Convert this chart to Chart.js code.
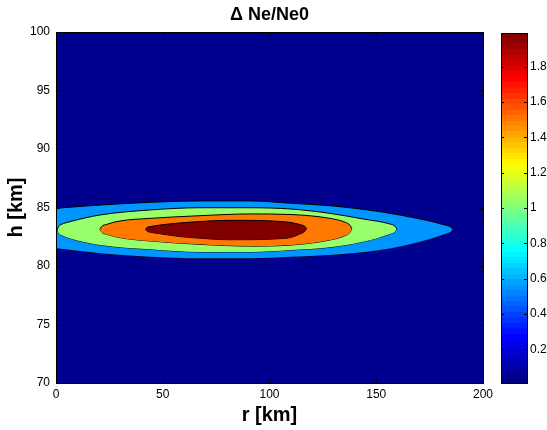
<!DOCTYPE html>
<html>
<head>
<meta charset="utf-8">
<script src="https://cdn.jsdelivr.net/npm/chart.js@4.4.1/dist/chart.umd.min.js"></script>
<style>
  html, body { margin: 0; padding: 0; background: #fff; }
  #wrap { position: relative; width: 547px; height: 430px; overflow: hidden; }
  #mainBox { position: absolute; left: 0; top: 0; width: 520px; height: 430px; }
  #cbBox { position: absolute; left: 490px; top: 0; width: 57px; height: 430px; }
</style>
</head>
<body>
<div id="wrap">
  <div id="mainBox"><canvas id="contourChart"></canvas></div>
  <div id="cbBox"><canvas id="colorbarChart"></canvas></div>
</div>
<script>
// contour boundaries: r [km], upper and lower h [km]
const redR   = [42, 42.6, 44, 48.7, 58, 67.4, 80, 91, 104, 110, 114, 116.6, 117.4];
const redTop = [83.14, 83.3, 83.36, 83.5, 83.68, 83.8, 83.9, 83.9, 83.82, 83.72, 83.55, 83.38, 83.2];
const redBot = [83.14, 82.98, 82.9, 82.76, 82.52, 82.38, 82.25, 82.25, 82.33, 82.44, 82.72, 82.98, 83.2];

const orangeR   = [20.6, 21.3, 24, 30, 44, 67.4, 91, 110, 128.3, 135.4, 137.8, 138.5];
const orangeTop = [83.14, 83.36, 83.57, 83.85, 84.07, 84.3, 84.45, 84.4, 84.07, 83.74, 83.46, 83.2];
const orangeBot = [83.14, 82.92, 82.7, 82.42, 82.14, 81.85, 81.7, 81.79, 82.22, 82.6, 82.9, 83.2];

const greenR   = [0.6, 1.2, 2.5, 6.6, 20.6, 44, 67.4, 91, 110, 128.3, 143.8, 156.4, 158.8, 159.6];
const greenTop = [83.1, 83.38, 83.55, 83.79, 84.36, 84.79, 84.98, 84.98, 84.87, 84.5, 84.02, 83.59, 83.4, 83.18];
const greenBot = [83.1, 82.82, 82.65, 82.36, 81.8, 81.43, 81.2, 81.2, 81.37, 81.6, 82.08, 82.74, 82.95, 83.18];

const blueR   = [0, 20.6, 44, 67.4, 91, 110, 128.3, 151.8, 170.5, 182.2, 185, 185.8];
const blueTop = [84.93, 85.21, 85.44, 85.56, 85.56, 85.36, 85.15, 84.64, 84.02, 83.5, 83.32, 83.14];
const blueBot = [81.51, 81.09, 80.79, 80.66, 80.66, 80.79, 80.94, 81.37, 82.08, 82.74, 82.94, 83.14];

const xTicks = [0, 50, 100, 150, 200];
const yTicks = [70, 75, 80, 85, 90, 95, 100];
const cbRange = [0.01, 1.99];
const cbTicks = [0.2, 0.4, 0.6, 0.8, 1, 1.2, 1.4, 1.6, 1.8];

const FONT = "'Liberation Sans', Arial, Helvetica, sans-serif";

function pts(rs, hs) {
    return rs.map((r, i) => ({ x: r, y: hs[i] }));
}

// jet colour map, 64 steps like matlab
function jet(t) {
    const c = v => Math.round(255 * Math.max(0, Math.min(1, v)));
    return 'rgb(' + c(1.5 - Math.abs(4 * t - 3)) + ',' + c(1.5 - Math.abs(4 * t - 2)) + ',' + c(1.5 - Math.abs(4 * t - 1)) + ')';
}

function band(rs, top, bot, color) {
    const common = {
        borderColor: '#000',
        borderWidth: 1,
        pointRadius: 0,
        cubicInterpolationMode: 'monotone'
    };
    return [
        Object.assign({ data: pts(rs, top), fill: '+1', backgroundColor: color }, common),
        Object.assign({ data: pts(rs, bot), fill: false }, common)
    ];
}

// dark blue plot background, inward ticks and box like matlab
const axesBox = {
    id: 'axesBox',
    beforeDatasetsDraw(chart) {
        const a = chart.chartArea;
        const ctx = chart.ctx;
        ctx.save();
        ctx.fillStyle = 'rgb(0,0,143)';
        ctx.fillRect(a.left, a.top, a.right - a.left, a.bottom - a.top);
        ctx.restore();
    },
    afterDatasetsDraw(chart) {
        const a = chart.chartArea;
        const ctx = chart.ctx;
        const xs = chart.scales.x, ys = chart.scales.y;
        ctx.save();
        ctx.strokeStyle = '#000';
        ctx.lineWidth = 1;
        ctx.beginPath();
        xTicks.forEach(v => {
            const px = Math.round(xs.getPixelForValue(v)) + 0.5;
            ctx.moveTo(px, a.bottom); ctx.lineTo(px, a.bottom - 4);
            ctx.moveTo(px, a.top); ctx.lineTo(px, a.top + 4);
        });
        yTicks.forEach(v => {
            const py = Math.round(ys.getPixelForValue(v)) + 0.5;
            ctx.moveTo(a.left, py); ctx.lineTo(a.left + 4, py);
            ctx.moveTo(a.right, py); ctx.lineTo(a.right - 4, py);
        });
        ctx.stroke();
        ctx.strokeRect(Math.round(a.left) + 0.5, Math.round(a.top) + 0.5,
            Math.round(a.right - a.left), Math.round(a.bottom - a.top));
        ctx.restore();
    }
};

new Chart(document.getElementById('contourChart'), {
    type: 'line',
    data: {
        datasets: [].concat(
            band(redR, redTop, redBot, 'rgb(128,0,0)'),
            band(orangeR, orangeTop, orangeBot, 'rgb(255,120,0)'),
            band(greenR, greenTop, greenBot, 'rgb(150,255,105)'),
            band(blueR, blueTop, blueBot, 'rgb(0,150,255)')
        )
    },
    options: {
        responsive: true,
        maintainAspectRatio: false,
        animation: false,
        layout: { padding: { right: 37 } },
        plugins: {
            legend: { display: false },
            tooltip: { enabled: false },
            title: {
                display: true,
                text: '\u0394 Ne/Ne0',
                fullSize: false,
                color: '#000',
                font: { family: FONT, size: 18, weight: 'bold' },
                padding: { top: 4, bottom: 6.4 }
            }
        },
        scales: {
            x: {
                type: 'linear',
                min: 0,
                max: 200,
                afterBuildTicks: s => { s.ticks = xTicks.map(v => ({ value: v })); },
                afterFit: s => { s.height = 47; s.paddingLeft = 0; s.paddingRight = 0; },
                grid: { display: false, drawTicks: false },
                border: { display: false },
                ticks: { color: '#000', padding: 4, font: { family: FONT, size: 12 }, maxRotation: 0 },
                title: {
                    display: true,
                    text: 'r [km]',
                    color: '#000',
                    font: { family: FONT, size: 20, weight: 'bold' },
                    padding: { top: 0, bottom: 3 }
                }
            },
            y: {
                type: 'linear',
                min: 70,
                max: 100,
                afterBuildTicks: s => { s.ticks = yTicks.map(v => ({ value: v })); },
                afterFit: s => { s.width = 56; s.paddingTop = 0; s.paddingBottom = 0; },
                grid: { display: false, drawTicks: false },
                border: { display: false },
                ticks: { color: '#000', padding: 6, font: { family: FONT, size: 12 } },
                title: {
                    display: true,
                    text: 'h [km]',
                    color: '#000',
                    font: { family: FONT, size: 20, weight: 'bold' },
                    padding: { top: 4, bottom: 0 }
                }
            }
        }
    },
    plugins: [axesBox]
});

// colour bar
const cbBox = {
    id: 'cbBox',
    afterDatasetsDraw(chart) {
        const a = chart.chartArea;
        const ctx = chart.ctx;
        const ys = chart.scales.y;
        ctx.save();
        ctx.strokeStyle = '#000';
        ctx.lineWidth = 1;
        ctx.beginPath();
        cbTicks.forEach(v => {
            const py = Math.round(ys.getPixelForValue(v)) + 0.5;
            ctx.moveTo(a.left, py); ctx.lineTo(a.left + 3, py);
            ctx.moveTo(a.right, py); ctx.lineTo(a.right - 3, py);
        });
        ctx.stroke();
        ctx.strokeRect(Math.round(a.left) + 0.5, Math.round(a.top) + 0.5,
            Math.round(a.right - a.left), Math.round(a.bottom - a.top));
        ctx.restore();
    }
};

new Chart(document.getElementById('colorbarChart'), {
    type: 'bar',
    data: {
        labels: [''],
        datasets: [{
            data: [cbRange],
            barPercentage: 1,
            categoryPercentage: 1,
            borderWidth: 0,
            backgroundColor: ctx => {
                const a = ctx.chart.chartArea;
                if (!a) return 'rgb(0,0,143)';
                const g = ctx.chart.ctx.createLinearGradient(0, a.bottom, 0, a.top);
                const n = 64;
                for (let k = 0; k < n; k++) {
                    const col = jet(k / (n - 1));
                    g.addColorStop(k / n, col);
                    g.addColorStop((k + 1) / n, col);
                }
                return g;
            }
        }]
    },
    options: {
        responsive: true,
        maintainAspectRatio: false,
        animation: false,
        layout: { padding: { left: 11, top: 33, bottom: 47 } },
        plugins: { legend: { display: false }, tooltip: { enabled: false } },
        scales: {
            x: { display: false },
            y: {
                position: 'right',
                min: cbRange[0],
                max: cbRange[1],
                afterBuildTicks: s => { s.ticks = cbTicks.map(v => ({ value: v })); },
                afterFit: s => { s.width = 20; },
                grid: { display: false, drawTicks: false },
                border: { display: false },
                ticks: { color: '#000', padding: 3, font: { family: FONT, size: 12 }, callback: v => String(v) }
            }
        }
    },
    plugins: [cbBox]
});
</script>
</body>
</html>
